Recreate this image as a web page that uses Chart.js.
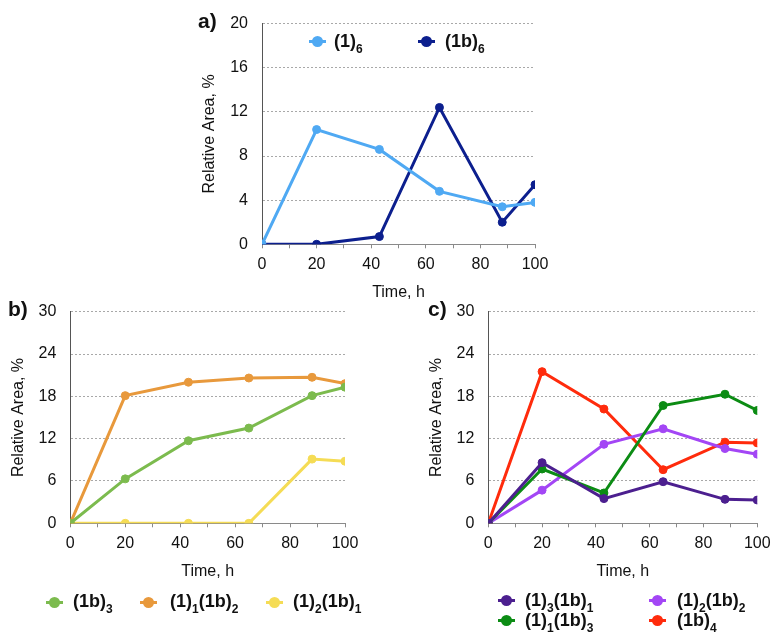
<!DOCTYPE html>
<html><head><meta charset="utf-8">
<script src="https://cdn.jsdelivr.net/npm/chart.js@4/dist/chart.umd.min.js"></script>
<style>
html,body{margin:0;padding:0;background:#fff;width:777px;height:634px;overflow:hidden;font-family:"Liberation Sans",Arial,sans-serif;}
canvas{position:absolute;left:0;top:0;}
.lbl{position:absolute;font-weight:bold;font-size:21px;color:#111;line-height:22px;height:22px;white-space:nowrap;}
.leg{position:absolute;font-weight:bold;font-size:18px;color:#111;line-height:22px;height:22px;white-space:nowrap;}
.leg sub{font-size:12px;vertical-align:-6px;line-height:0;}
.mk{position:absolute;width:17px;height:3px;}
.dot{position:absolute;left:3px;top:-4px;width:11px;height:11px;border-radius:50%;}
</style>
</head><body>
<canvas id="ca" width="777" height="634"></canvas>
<canvas id="cb" width="777" height="634"></canvas>
<canvas id="cc" width="777" height="634"></canvas>
<script>
// ---- data ----
const times = [0, 20, 43, 65, 88, 100];
const xTicksLabelled = [0, 20, 40, 60, 80, 100];

const namesA = ["(1)_6", "(1b)_6"];
const a_1_6  = [0, 10.4, 8.6, 4.8, 3.4, 3.8];
const a_1b_6 = [0, 0, 0.7, 12.4, 2.0, 5.4];

const namesB = ["(1b)_3", "(1)_1(1b)_2", "(1)_2(1b)_1"];
const b_1b_3     = [0, 6.3, 11.7, 13.5, 18.1, 19.3];
const b_1_1_1b_2 = [0, 18.1, 20.0, 20.6, 20.7, 19.8];
const b_1_2_1b_1 = [0, 0, 0, 0, 9.1, 8.8];

const namesC = ["(1)_3(1b)_1", "(1)_1(1b)_3", "(1)_2(1b)_2", "(1b)_4"];
const c_1_3_1b_1 = [0, 8.6, 3.5, 5.9, 3.4, 3.3];
const c_1_1_1b_3 = [0, 7.7, 4.3, 16.7, 18.3, 16.0];
const c_1_2_1b_2 = [0, 4.7, 11.2, 13.4, 10.6, 9.8];
const c_1b_4     = [0, 21.5, 16.2, 7.6, 11.5, 11.4];

const yTicksA = [0, 4, 8, 12, 16, 20];
const yTicksBC = [0, 6, 12, 18, 24, 30];

// ---- styling ----
const colA = ["#4fa9f3", "#0c1f8e"];
const colB = ["#7cbb4e", "#e8993c", "#f5dc55"];
const colC = ["#4c1f8f", "#0c8c14", "#a346f5", "#ff2b0c"];
const FONT = '"Liberation Sans", Arial, sans-serif';
const SUBS = {"0":"\u2080","1":"\u2081","2":"\u2082","3":"\u2083","4":"\u2084","5":"\u2085","6":"\u2086"};
const plainName = s => s.replace(/_(\d)/g, (m, d) => SUBS[d]);
const htmlName = s => s.replace(/_(\d)/g, '<sub>$1</sub>');

function ds(name, vals, color) {
  return {
    label: plainName(name),
    data: times.map((t, i) => ({x: t, y: vals[i]})),
    borderColor: color, backgroundColor: color,
    pointBackgroundColor: color, pointBorderColor: color,
    borderWidth: 3, pointRadius: 4, pointBorderWidth: 1, tension: 0
  };
}

function makeChart(id, datasets, yMax, yStep, area) {
  // area: plot box in page coords
  const xH = 57.6;
  const yW = area.l - area.padL;
  return new Chart(document.getElementById(id), {
    type: 'line',
    data: {datasets},
    options: {
      responsive: false, animation: false, devicePixelRatio: 1,
      layout: {padding: {left: area.padL, top: area.t, right: 777 - area.r, bottom: 634 - area.b - xH}},
      plugins: {legend: {display: false}, tooltip: {enabled: false}},
      scales: {
        x: {
          type: 'linear', min: 0, max: 100,
          afterFit: s => { s.height = xH; },
          ticks: {stepSize: 10, padding: 6.4, color: '#111', maxRotation: 0, autoSkip: false,
                  font: {family: FONT, size: 16},
                  callback: v => xTicksLabelled.includes(v) ? String(v) : ''},
          grid: {display: true, drawOnChartArea: false, drawTicks: true, tickLength: 4, color: '#8a8a8a', lineWidth: 1},
          border: {display: true, color: '#8a8a8a', width: 1},
          title: {display: true, text: 'Time, h', color: '#111', padding: 0,
                  font: {family: FONT, size: 16, lineHeight: 1.2}}
        },
        y: {
          min: 0, max: yMax,
          afterFit: s => { s.width = yW; },
          afterBuildTicks: s => { s.ticks = (yMax === 20 ? yTicksA : yTicksBC).map(v => ({value: v})); },
          ticks: {stepSize: yStep, padding: 14, color: '#111', font: {family: FONT, size: 16}},
          grid: {display: true, drawTicks: false, color: '#a8a8a8', lineWidth: 1},
          border: {display: true, color: '#555555', width: 1, dash: [2, 2]},
          title: {display: true, text: 'Relative Area, %', color: '#111', padding: 0,
                  font: {family: FONT, size: 16, lineHeight: 1.2}}
        }
      }
    }
  });
}

makeChart('ca', [ds(namesA[0], a_1_6, colA[0]), ds(namesA[1], a_1b_6, colA[1])], 20, 4,
  {l: 262, r: 535, t: 19.3, b: 244.3, padL: 200.4});
makeChart('cb', [ds(namesB[0], b_1b_3, colB[0]), ds(namesB[1], b_1_1_1b_2, colB[1]), ds(namesB[2], b_1_2_1b_1, colB[2])], 30, 6,
  {l: 70.3, r: 345, t: 311.7, b: 523.3, padL: 8.7});
makeChart('cc', [ds(namesC[0], c_1_3_1b_1, colC[0]), ds(namesC[1], c_1_1_1b_3, colC[1]), ds(namesC[2], c_1_2_1b_2, colC[2]), ds(namesC[3], c_1b_4, colC[3])], 30, 6,
  {l: 488.3, r: 762.7, t: 311.7, b: 523.3, padL: 427.4});

// ---- panel letters and legends (HTML text so subscripts render) ----
function addText(cls, html, x, yc) {
  const d = document.createElement('div');
  d.className = cls; d.innerHTML = html;
  d.style.left = x + 'px'; d.style.top = (yc - 12) + 'px';
  document.body.appendChild(d);
}
function addLegend(name, color, mx, my, tx) {
  const m = document.createElement('div');
  m.className = 'mk'; m.style.background = color;
  m.style.left = (mx - 8.5) + 'px'; m.style.top = (my - 1.5) + 'px';
  const dot = document.createElement('div');
  dot.className = 'dot'; dot.style.background = color;
  m.appendChild(dot);
  document.body.appendChild(m);
  addText('leg', htmlName(name), tx, my);
}
addText('lbl', 'a)', 198, 21.5);
addText('lbl', 'b)', 8, 310);
addText('lbl', 'c)', 428, 310);

addLegend(namesA[0], colA[0], 317.7, 41.7, 334);
addLegend(namesA[1], colA[1], 426.7, 41.7, 445);

addLegend(namesB[0], colB[0], 54, 602.3, 73);
addLegend(namesB[1], colB[1], 148, 602.3, 170);
addLegend(namesB[2], colB[2], 274, 602.3, 293);

addLegend(namesC[0], colC[0], 506, 600.7, 525);
addLegend(namesC[2], colC[2], 657, 600.7, 677);
addLegend(namesC[1], colC[1], 506, 620.5, 525);
addLegend(namesC[3], colC[3], 657, 620.5, 677);
</script>
</body></html>
